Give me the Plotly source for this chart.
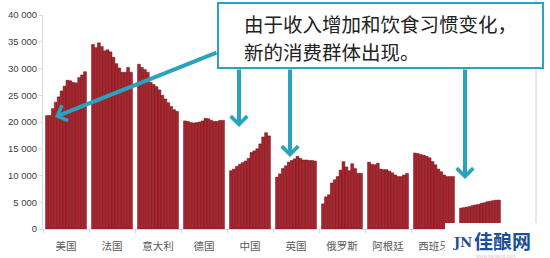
import plotly.graph_objects as go

countries = ["美国", "法国", "意大利", "德国", "中国", "英国", "俄罗斯", "阿根廷", "西班牙", "其他"]
tick_labels = ["美国", "法国", "意大利", "德国", "中国", "英国", "俄罗斯", "阿根廷", "西班牙", ""]
years = [str(y) for y in range(2000, 2014)]

usa = [21200, 21200, 22500, 23700, 24700, 25800, 26700, 27800, 27700, 27400, 27300, 28300, 28800, 29400]
france = [34500, 33900, 34800, 34100, 33300, 33500, 33100, 32100, 30900, 30100, 29300, 29300, 30200, 29300]
italy = [30800, 30200, 29800, 29300, 27400, 27000, 26600, 26000, 25000, 24300, 23600, 22900, 22300, 22000]
germany = [20200, 20100, 19900, 19800, 19900, 20000, 20200, 20700, 20600, 20300, 20100, 20100, 20300, 20300]
china = [10900, 11200, 11700, 12100, 12400, 12700, 13200, 14300, 14600, 15000, 15900, 17200, 18000, 17400]
uk = [9700, 10300, 11300, 11800, 12500, 12800, 13100, 13600, 13200, 12900, 12900, 12800, 12800, 12700]
russia = [4700, 6000, 6400, 8600, 9200, 9800, 11000, 12600, 11600, 10900, 12200, 11300, 10400, 10400]
argentina = [12500, 12100, 12000, 12300, 11200, 11100, 11100, 10800, 10500, 10100, 9800, 9800, 10100, 10400]
spain = [14200, 14100, 13900, 13800, 13600, 13300, 12600, 12000, 11200, 10700, 10100, 9800, 9800, 9800]
last_group = [3900, 4000, 4100, 4200, 4400, 4500, 4600, 4800, 4900, 5100, 5200, 5300, 5400, 5400]

series_by_country = [usa, france, italy, germany, china, uk, russia, argentina, spain, last_group]
y_ticks = [0, 5000, 10000, 15000, 20000, 25000, 30000, 35000, 40000]

W, H = 550, 258
L, R, T, B = 43, 47, 15, 29
pw, ph = W - L - R, H - T - B

def px(x):
    return (x - L) / pw

def py(y):
    return (H - B - y) / ph

fig = go.Figure()
for j, yr in enumerate(years):
    fig.add_trace(go.Bar(
        x=countries,
        y=[vals[j] for vals in series_by_country],
        name=yr,
        marker=dict(color="#A8262F", line=dict(color="#6E1418", width=0.5)),
        showlegend=False,
    ))

teal = "#2AA3BE"
shapes = [
    dict(type="rect", xref="paper", yref="paper", x0=px(218), x1=px(543), y0=py(68), y1=py(3),
         line=dict(color=teal, width=2), fillcolor="white", layer="above"),
    dict(type="line", xref="paper", yref="paper", x0=px(536), x1=px(536), y0=py(258), y1=py(0),
         line=dict(color="#D0D0D0", width=1), layer="below"),
    dict(type="rect", xref="paper", yref="paper", x0=px(445), x1=px(551), y0=py(259), y1=py(223),
         line=dict(width=0), fillcolor="white", layer="above"),
]

annotations = []
arrows = [((55, 117), (218, 52)), ((239, 127), (239, 68)), ((290, 157), (290, 68)), ((465, 179), (465, 68))]
for (tx, ty), (sx, sy) in arrows:
    annotations.append(dict(
        xref="paper", yref="paper", x=px(tx), y=py(ty), ax=sx - tx, ay=sy - ty,
        axref="pixel", ayref="pixel", text="", showarrow=True,
        arrowhead=4, arrowsize=0.8, arrowwidth=4, arrowcolor=teal, standoff=0,
    ))

annotations.append(dict(
    xref="paper", yref="paper", x=px(242), y=py(23), xanchor="left", yanchor="middle", align="left",
    text="由于收入增加和饮食习惯变化，", showarrow=False,
    font=dict(family="Noto Sans CJK SC", size=19.5, color="#222222"),
))
annotations.append(dict(
    xref="paper", yref="paper", x=px(242), y=py(51), xanchor="left", yanchor="middle", align="left",
    text="新的消费群体出现。", showarrow=False,
    font=dict(family="Noto Sans CJK SC", size=19.5, color="#222222"),
))
annotations.append(dict(
    xref="paper", yref="paper", x=px(451), y=py(242), xanchor="left", yanchor="middle",
    text="<b>JN</b>", showarrow=False,
    font=dict(family="DejaVu Serif", size=13, color="#1E4E9A"),
))
annotations.append(dict(
    xref="paper", yref="paper", x=px(472), y=py(240), xanchor="left", yanchor="middle",
    text="<b>佳酿网</b>", showarrow=False,
    font=dict(family="Noto Sans CJK SC", size=19, color="#1E4E9A"),
))
annotations.append(dict(
    xref="paper", yref="paper", x=px(474), y=py(255.5), xanchor="left", yanchor="middle",
    text="www.jianiang.com", showarrow=False,
    font=dict(family="Liberation Sans", size=5, color="#D0D0D0"),
))

fig.update_layout(
    width=W, height=H,
    margin=dict(l=L, r=R, t=T, b=B, pad=0, autoexpand=False),
    paper_bgcolor="white", plot_bgcolor="white",
    barmode="group", bargap=0.11, bargroupgap=0,
    separators=". ",
    shapes=shapes, annotations=annotations,
    font=dict(family="Noto Sans CJK SC", color="#595959"),
)
fig.update_xaxes(
    type="category", showgrid=False, showline=True, linecolor="#D9D9D9", linewidth=1,
    ticks="outside", tickson="boundaries", ticklen=3, tickcolor="#D9D9D9",
    tickmode="array", tickvals=countries, ticktext=tick_labels, tickangle=0, automargin=False,
    ticklabelstandoff=7,
    tickfont=dict(family="Noto Sans CJK SC", size=10.5, color="#595959"),
)
fig.update_yaxes(
    range=[0, 40000], tickvals=y_ticks, tickformat=",d", showgrid=False, zeroline=False,
    showline=True, linecolor="#D9D9D9", linewidth=1, ticks="outside", ticklen=3, tickcolor="#D9D9D9",
    automargin=False,
    tickfont=dict(family="Liberation Sans", size=9.5, color="#404040"),
)

fig.write_html("out.html")
